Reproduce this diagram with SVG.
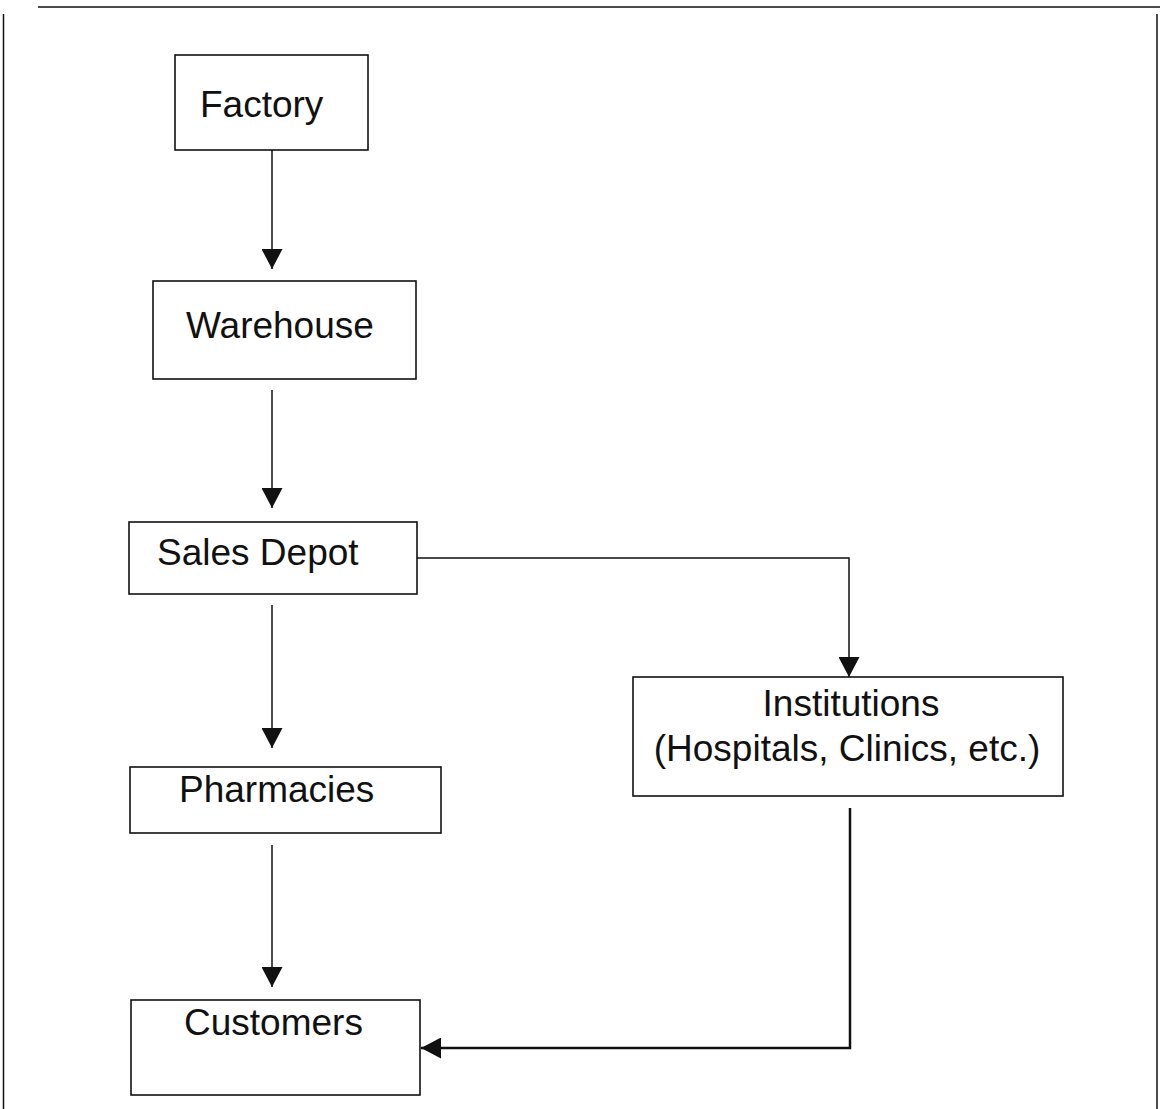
<svg xmlns="http://www.w3.org/2000/svg" width="1160" height="1109" viewBox="0 0 1160 1109">
<style>
.box{fill:#fff;stroke:#111;stroke-width:1.6}
.lbl{font-family:"Liberation Sans",Arial,sans-serif;font-size:37px;fill:#111}
.con{fill:none;stroke:#111;stroke-width:1.5}
.frame{stroke:#111;stroke-width:1.5;fill:none}
</style>
<defs>
<marker id="ah" markerWidth="20" markerHeight="21" refX="20" refY="10.5" orient="auto" markerUnits="userSpaceOnUse">
<path d="M0,0 L20,10.5 L0,21 Z" fill="#111"/>
</marker>
</defs>
<rect width="1160" height="1109" fill="#fff"/>
<g id="frame">
<line class="frame" x1="38" y1="7" x2="1160" y2="7"/>
<line class="frame" x1="3.5" y1="14" x2="3.5" y2="1109"/>
<line class="frame" x1="1157" y1="14" x2="1157" y2="1109"/>
</g>
<g id="connectors">
<line class="con" x1="272" y1="150" x2="272" y2="269" marker-end="url(#ah)"/>
<line class="con" x1="272" y1="390" x2="272" y2="508" marker-end="url(#ah)"/>
<line class="con" x1="272" y1="605" x2="272" y2="748" marker-end="url(#ah)"/>
<line class="con" x1="272" y1="845" x2="272" y2="987" marker-end="url(#ah)"/>
<polyline class="con" points="417,558 849,558 849,677" marker-end="url(#ah)"/>
<polyline class="con" points="850,808 850,1048 421,1048" style="stroke-width:2.5" marker-end="url(#ah)"/>
</g>
<g id="factory">
<rect class="box" x="175" y="55" width="193" height="95"/>
<text class="lbl" x="200" y="117">Factory</text>
</g>
<g id="warehouse">
<rect class="box" x="153" y="281" width="263" height="98"/>
<text class="lbl" x="186" y="338">Warehouse</text>
</g>
<g id="sales-depot">
<rect class="box" x="129" y="522" width="288" height="72"/>
<text class="lbl" x="157" y="565">Sales Depot</text>
</g>
<g id="institutions">
<rect class="box" x="633" y="677" width="430" height="119"/>
<text class="lbl" x="851" y="716" text-anchor="middle">Institutions</text>
<text class="lbl" x="847" y="761" text-anchor="middle">(Hospitals, Clinics, etc.)</text>
</g>
<g id="pharmacies">
<rect class="box" x="130" y="767" width="311" height="66"/>
<text class="lbl" x="179" y="802">Pharmacies</text>
</g>
<g id="customers">
<rect class="box" x="131" y="1000" width="289" height="95"/>
<text class="lbl" x="184" y="1035">Customers</text>
</g>
</svg>
